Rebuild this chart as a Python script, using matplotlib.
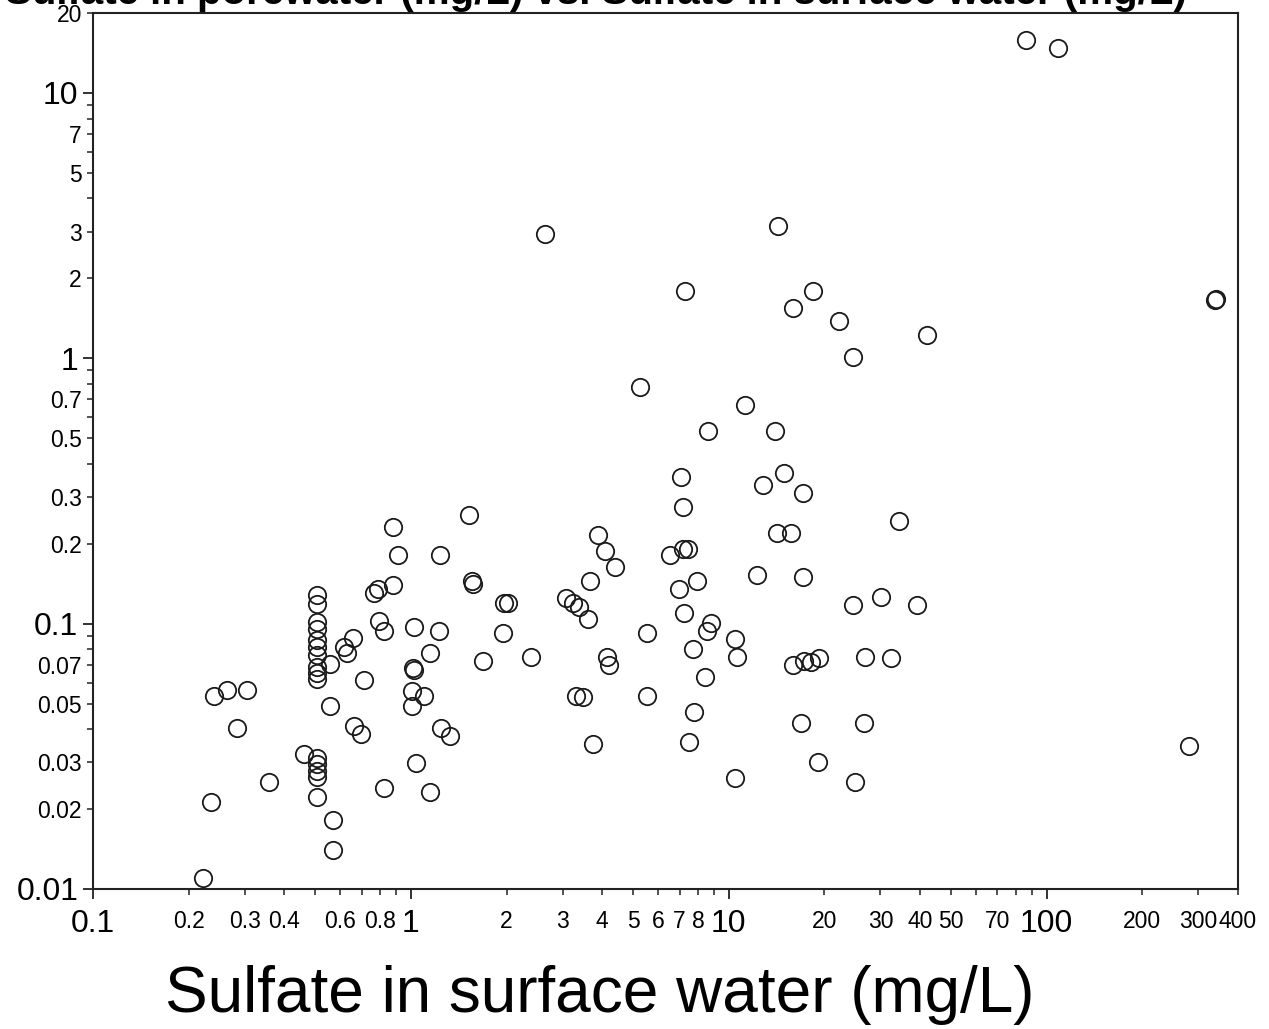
import numpy as np
import matplotlib
matplotlib.use("Agg")
import matplotlib.pyplot as plt
from matplotlib.ticker import FixedLocator, FuncFormatter

plt.rcParams['font.family'] = ['Liberation Sans', 'DejaVu Sans']

# sulfate in surface water (mg/L)
surface = [
    86.3, 108.8, 2.64, 14.30, 7.29, 18.42, 15.94, 22.24, 42.1, 24.62,
    339.4, 341.8, 5.26, 11.26, 8.61, 13.99, 7.08, 14.93, 12.82, 17.13,
    7.18, 1.523, 34.36, 0.878, 3.88, 14.19, 15.71, 0.910, 1.234, 4.08,
    6.53, 7.18, 7.44, 4.39, 12.28, 17.13, 1.556, 1.567, 0.878, 3.66,
    7.95, 6.98, 0.787, 0.765, 3.075, 3.235, 3.38, 1.962, 2.02, 24.62,
    30.16, 39.14, 3.61, 7.23,
    0.506, 0.506, 0.506, 0.506, 0.506, 0.506, 0.506, 0.506, 0.506, 0.506,
    0.793, 0.822, 1.022, 1.225, 1.948, 5.53, 8.80, 8.54, 10.47, 0.657,
    0.615, 0.629, 0.556, 1.148, 1.015, 1.022, 1.685, 2.387, 4.14, 4.20,
    7.72, 10.62, 15.94, 17.26, 18.16, 19.24, 26.85, 32.43, 0.711, 8.42,
    0.240, 0.264, 0.305, 1.007, 1.099, 3.31, 3.48, 5.53, 0.556, 1.007,
    7.78, 0.283, 0.661, 0.696, 1.243, 1.327, 16.89, 26.66, 3.74, 7.50,
    281.1, 0.460, 0.506, 0.506, 0.506, 0.506, 0.506, 0.357, 0.822, 1.037,
    1.148, 10.47, 19.10, 24.98, 0.235, 0.568, 0.568, 0.2215,
]

# sulfate in porewater (mg/L)
porewater = [
    15.82, 14.76, 2.951, 3.162, 1.786, 1.786, 1.542, 1.378, 1.220, 1.009,
    1.652, 1.667, 0.778, 0.666, 0.532, 0.532, 0.357, 0.370, 0.333, 0.311,
    0.275, 0.257, 0.244, 0.2315, 0.216, 0.220, 0.220, 0.182, 0.182, 0.188,
    0.182, 0.191, 0.191, 0.164, 0.153, 0.150, 0.145, 0.141, 0.140, 0.145,
    0.145, 0.135, 0.135, 0.131, 0.125, 0.120, 0.116, 0.120, 0.120, 0.118,
    0.126, 0.118, 0.104, 0.110,
    0.1285, 0.1189, 0.1017, 0.0958, 0.0871, 0.0819, 0.0765, 0.0689, 0.0654, 0.0621,
    0.1026, 0.0941, 0.0974, 0.0941, 0.0925, 0.0925, 0.1009, 0.0941, 0.0878, 0.0886,
    0.0813, 0.0778, 0.0707, 0.0778, 0.0678, 0.0666, 0.0726, 0.0751, 0.0751, 0.0701,
    0.0805, 0.0751, 0.0701, 0.0726, 0.0714, 0.0745, 0.0751, 0.0745, 0.0611, 0.0632,
    0.0532, 0.0560, 0.0560, 0.0555, 0.0532, 0.0532, 0.0527, 0.0532, 0.0488, 0.0488,
    0.0463, 0.0403, 0.0410, 0.0383, 0.0403, 0.0376, 0.0424, 0.0424, 0.0351, 0.0357,
    0.0345, 0.0322, 0.0311, 0.0295, 0.0278, 0.0264, 0.0222, 0.0253, 0.0240, 0.0298,
    0.0232, 0.0262, 0.0300, 0.0253, 0.0212, 0.0182, 0.0140, 0.0110,
]

x_major = [0.1, 1, 10, 100]
x_minor_labels = [0.2, 0.3, 0.4, 0.6, 0.8, 2, 3, 4, 5, 6, 7, 8,
                  20, 30, 40, 50, 70, 200, 300, 400]
y_major = [0.01, 0.1, 1, 10]
y_minor_labels = [0.02, 0.03, 0.05, 0.07, 0.2, 0.3, 0.5, 0.7, 2, 3, 5, 7, 20]

fig = plt.figure(figsize=(12.69, 10.29), dpi=100)
ax = fig.add_axes([93 / 1269, 140 / 1029, (1238 - 93) / 1269, (889 - 13) / 1029])

ax.plot(surface, porewater, linestyle='none', marker='o', ms=12.5,
        mfc='none', mec='#1a1a1a', mew=1.3)

ax.set_xscale('log')
ax.set_yscale('log')
ax.set_xlim(0.1, 400)
ax.set_ylim(0.01, 20)


def fmt(v):
    return f"{v:g}"


def minor_ticks(lo_exp, hi_exp, upper):
    vals = []
    for e in range(lo_exp, hi_exp + 1):
        for m in range(2, 10):
            v = m * 10.0 ** e
            if v <= upper * 1.0001:
                vals.append(v)
    return vals


def pick(labels):
    return lambda v, p: fmt(v) if any(abs(v - t) / t < 1e-6 for t in labels) else ""


ax.xaxis.set_major_locator(FixedLocator(x_major))
ax.xaxis.set_minor_locator(FixedLocator(minor_ticks(-1, 2, 400)))
ax.yaxis.set_major_locator(FixedLocator(y_major))
ax.yaxis.set_minor_locator(FixedLocator(minor_ticks(-2, 1, 20)))

ax.xaxis.set_major_formatter(FuncFormatter(lambda v, p: fmt(v)))
ax.yaxis.set_major_formatter(FuncFormatter(lambda v, p: fmt(v)))
ax.xaxis.set_minor_formatter(FuncFormatter(pick(x_minor_labels)))
ax.yaxis.set_minor_formatter(FuncFormatter(pick(y_minor_labels)))

ax.tick_params(axis='both', which='major', length=7.5, width=1.3, color='#222222',
               labelsize=23, pad=3)
ax.tick_params(axis='both', which='minor', length=4, width=1.1, color='#222222',
               labelsize=16.5, pad=4)
ax.tick_params(axis='x', which='major', pad=7)
ax.tick_params(axis='x', which='minor', pad=11)

for sp in ax.spines.values():
    sp.set_linewidth(1.5)
    sp.set_color('#222222')

fig.text(600 / 1269, 1 - 995 / 1029, 'Sulfate in surface water (mg/L)',
         ha='center', va='center', fontsize=46)
# title sits mostly above the top edge, as in the original export
fig.text(596 / 1269, 1 - 3.5 / 1029,
         'Sulfate in porewater (mg/L) vs. Sulfate in surface water (mg/L)',
         ha='center', va='baseline', fontsize=29, fontweight='bold')

fig.savefig('out.png', dpi=100)
